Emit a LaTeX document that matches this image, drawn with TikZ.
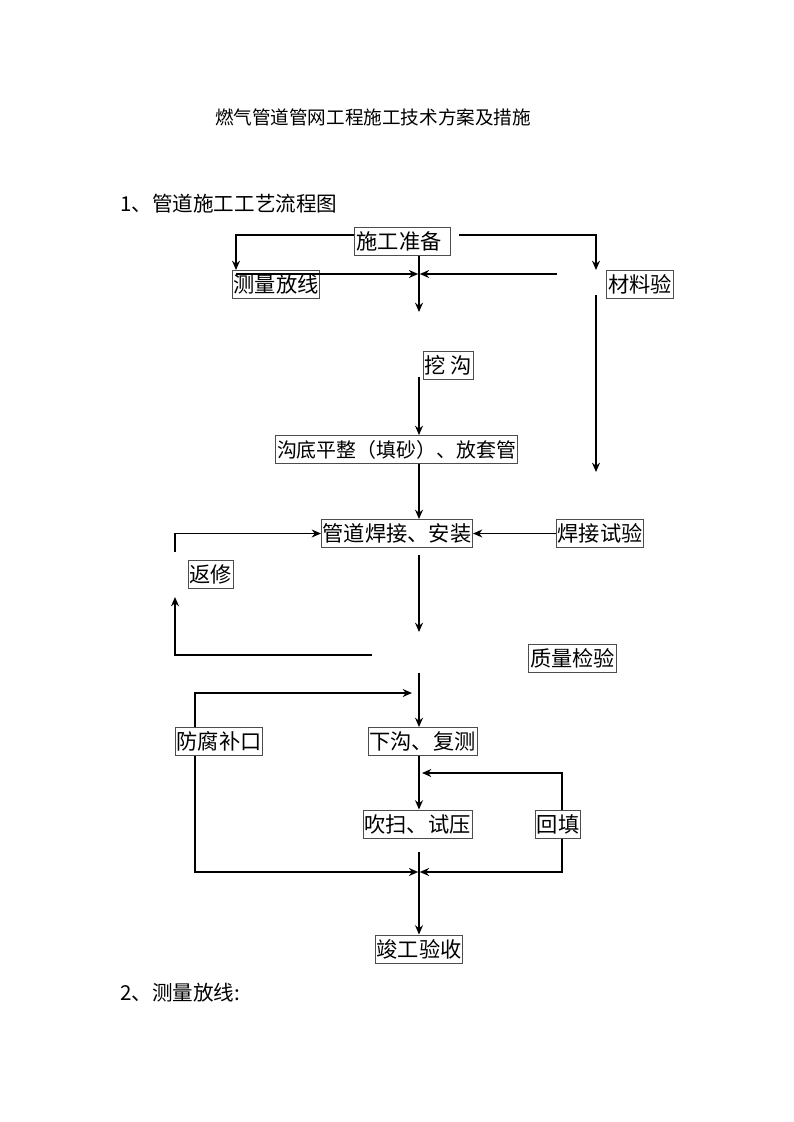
\documentclass[tikz,border=0pt]{standalone}
\usepackage{fontspec}
\setmainfont{Noto Sans CJK SC}
\usetikzlibrary{positioning, arrows.meta, calc}

\begin{document}
\begin{tikzpicture}[
        x=0.02648cm, y=-0.02648cm,
        >={Stealth[length=7pt,width=6pt]},
        flow/.style={line width=1.1pt},
        box/.style={draw=black!70, line width=0.5pt, fill=white, inner xsep=1pt, inner ysep=1pt,
            minimum height=7.5mm, font=\fontsize{16pt}{18pt}\selectfont},
        heading/.style={font=\fontsize{15.5pt}{18pt}\selectfont, anchor=west, inner sep=0pt},
    ]
    \useasboundingbox (0,0) rectangle (793,1122);

    % Title and headings
    \node[font=\fontsize{14pt}{16pt}\selectfont] (title) at (373,117) {燃气管道管网工程施工技术方案及措施};
    \node[heading] (head1) at (120,204) {1、管道施工工艺流程图};
    \node[heading] (head2) at (120,993) {2、测量放线:};

    % Draw the process boxes
    \node[box, minimum width=2.54cm, text width=2.4cm] (prep) at (402,241.5) {施工准备};
    \node[box, font=\fontsize{15pt}{18pt}\selectfont] (trench) at (396.5,449.5) {沟底平整（填砂）、放套管};
    \foreach \name/\x/\y/\txt in {survey/276/284.5/测量放线, material/640/284.5/材料验,
            dig/448/365.5/挖 沟,
            weld/397/533.5/管道焊接、安装, weldtest/600/533.5/焊接试验,
            repair/210.5/574/返修, quality/572.5/658/质量检验,
            anticorr/219/741.5/防腐补口, lower/422.5/741.5/下沟、复测,
            purge/417.5/824/吹扫、试压, backfill/558/824/回填,
            accept/419/949/竣工验收}
        \node[box] (\name) at (\x,\y) {\txt};

    % Corners and free ends of the connectors
    \coordinate (axis) at (419,0);
    \coordinate (tl) at (236,235);
    \coordinate (tr) at (596,235);
    \coordinate (j1) at (419,274);
    \coordinate (mr) at (557,274);
    \coordinate (d1) at (419,312);
    \coordinate (r1) at (596,295);
    \coordinate (r2) at (596,472);
    \coordinate (rl1) at (175,552);
    \coordinate (rl2) at (175,597);
    \coordinate (rl3) at (175,655);
    \coordinate (rl4) at (372,655);
    \coordinate (q2) at (419,632);
    \coordinate (q3) at (419,673);
    \coordinate (a1) at (195,693);
    \coordinate (a2) at (412,693);
    \coordinate (a3) at (195,872);
    \coordinate (j2) at (419,872);
    \coordinate (b1) at (562,773);
    \coordinate (p1) at (419,852);

    % Preparation splits to survey and material
    \draw[flow, ->] (prep.west |- tl) -- (tl) -- (tl |- survey.north);
    \draw[flow, ->] ($(prep.east |- tr)+(9,0)$) -- (tr) -- (tr |- material.north);
    \draw[flow, ->, shorten >=0.6pt] (tl |- j1) -- (j1);
    \draw[flow, ->, shorten >=0.6pt] (mr) -- (j1);
    \draw[flow, ->] (prep.south -| axis) -- (d1);
    \draw[flow, ->] (r1) -- (r2);

    % Trench and welding
    \draw[flow, ->] ($(dig.south -| axis)+(0,-3)$) -- (trench.north -| axis);
    \draw[flow, ->] (trench.south -| axis) -- (weld.north -| axis);
    \draw[flow, ->] (weldtest.west) -- (weld.east);
    \draw[flow, ->] (rl1) |- (weld.west);
    \draw[flow, ->] (rl4) -- (rl3) -- (rl2);
    \draw[flow, ->] ($(weld.south -| axis)+(0,7)$) -- (q2);

    % Lowering, purging and acceptance
    \draw[flow, ->] (q3) -- (lower.north -| axis);
    \draw[flow, ->] (anticorr.north -| a1) -- (a1) -- (a2);
    \draw[flow, ->, shorten >=0.6pt] (anticorr.south -| a1) -- (a3) -- (j2);
    \draw[flow, ->] (lower.south -| axis) -- (purge.north -| axis);
    \draw[flow, ->] (backfill.north -| b1) -- (b1) -- ($(b1 -| axis)+(3,0)$);
    \draw[flow, ->, shorten >=0.6pt] (backfill.south -| b1) |- (j2);
    \draw[flow, ->] (p1) -- (accept.north);
\end{tikzpicture}
\end{document}
